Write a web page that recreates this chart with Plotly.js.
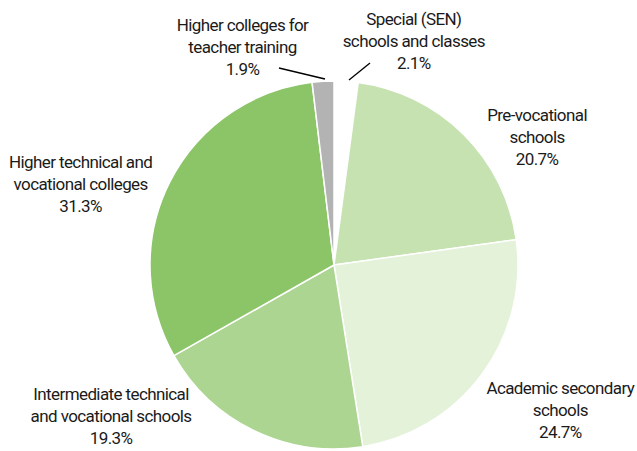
<!DOCTYPE html>
<html><head><meta charset="utf-8">
<script src="https://cdn.plot.ly/plotly-3.0.1.min.js"></script>
<style>html,body{margin:0;padding:0;background:#fff}#c{width:637px;height:451px}
#c .annotation-text{letter-spacing:-0.6px}</style>
</head><body><div id="c"></div>
<script>
var categories = ["Special (SEN)<br>schools and classes", "Pre-vocational<br>schools", "Academic secondary<br>schools", "Intermediate technical<br>and vocational schools", "Higher technical and<br>vocational colleges", "Higher colleges for<br>teacher training"];
var values = [2.1, 20.7, 24.7, 19.3, 31.3, 1.9];
var colors = ["#ffffff", "#c6e2b1", "#e4f2da", "#acd592", "#8cc568", "#b3b3b3"];

var W = 637, H = 451;
var font = {family: "Roboto, 'Liberation Sans', Arial, sans-serif", size: 17, color: "#1a1a1a"};
// label centre positions in pixels (x, y of middle line)
var labelPos = [[414, 41], [537, 137], [560, 410], [111, 416], [80, 184], [242, 47]];
var annotations = categories.map(function(c, i) {
  return {
    text: c + "<br>" + values[i].toFixed(1) + "%",
    x: labelPos[i][0] / W, y: 1 - labelPos[i][1] / H,
    xref: "paper", yref: "paper", xanchor: "center", yanchor: "middle",
    showarrow: false, font: font, align: "center"
  };
});
function px(x) { return x / W; }
function py(y) { return 1 - y / H; }
var shapes = [
  {type: "line", xref: "paper", yref: "paper", x0: px(279), y0: py(68), x1: px(325), y1: py(79), line: {color: "#000", width: 1.3}},
  {type: "line", xref: "paper", yref: "paper", x0: px(370), y0: py(63), x1: px(349), y1: py(80), line: {color: "#000", width: 1.3}}
];
var cx = 334, cy = 265, r = 184;
Plotly.newPlot("c", [{
  type: "pie",
  values: values,
  labels: categories,
  sort: false,
  direction: "clockwise",
  rotation: 0,
  marker: {colors: colors, line: {color: "#ffffff", width: 1.5}},
  textinfo: "none",
  hoverinfo: "none",
  domain: {x: [(cx - r) / W, (cx + r) / W], y: [(H - cy - r) / H, (H - cy + r) / H]}
}], {
  width: W, height: H,
  margin: {l: 0, r: 0, t: 0, b: 0},
  showlegend: false,
  paper_bgcolor: "#ffffff",
  annotations: annotations,
  shapes: shapes
}, {displayModeBar: false, staticPlot: true});
</script></body></html>
